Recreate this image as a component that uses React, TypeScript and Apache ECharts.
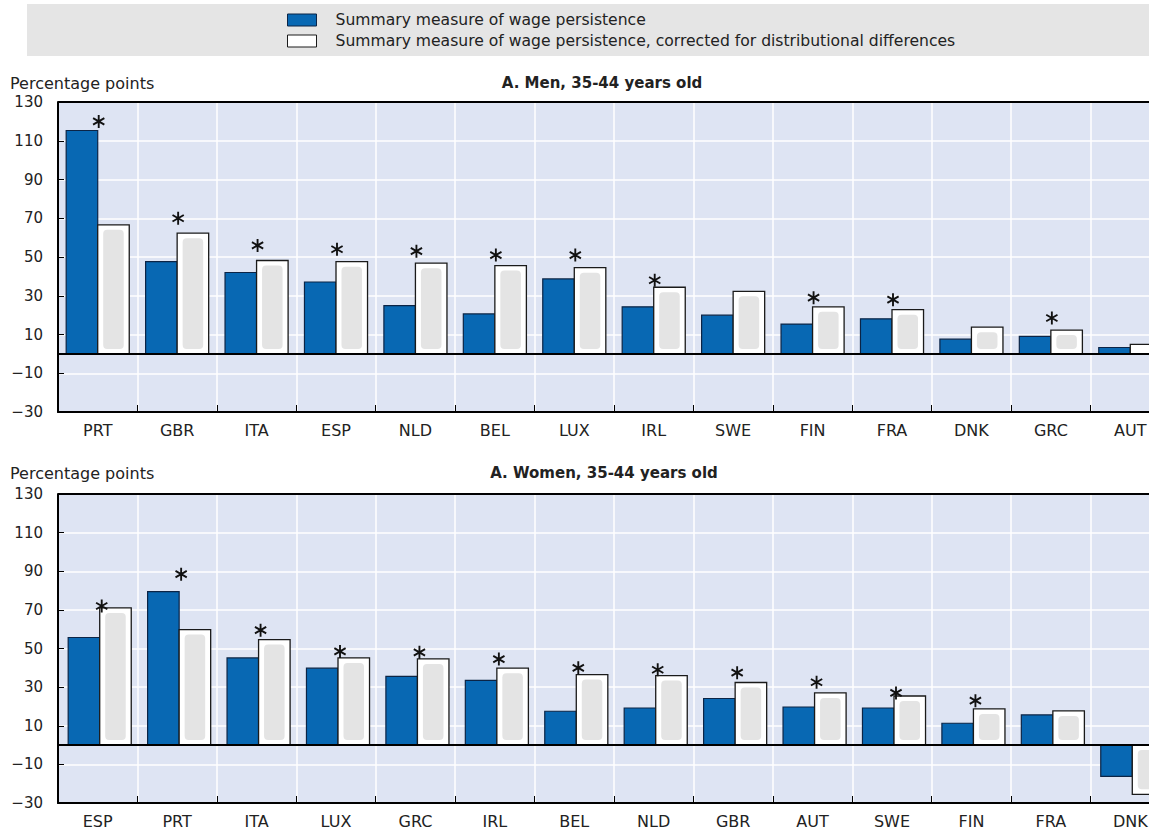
import React, { useEffect, useRef } from "react";
import * as echarts from "echarts";

// ---------- data ----------
const menCategories = ["PRT", "GBR", "ITA", "ESP", "NLD", "BEL", "LUX", "IRL", "SWE", "FIN", "FRA", "DNK", "GRC", "AUT"];
const menPersistence = [115.3, 47.6, 42.0, 37.1, 24.9, 20.6, 38.7, 24.3, 20.0, 15.4, 18.1, 7.6, 9.0, 3.3];
const menCorrected = [66.6, 62.3, 48.2, 47.6, 46.8, 45.6, 44.5, 34.4, 32.3, 24.3, 22.8, 13.8, 12.3, 4.9];
const menStars: (number | null)[] = [120, 70, 56, 54, 53, 51, 51, 38, null, 29, 28, null, 18.5, null];

const womenCategories = ["ESP", "PRT", "ITA", "LUX", "GRC", "IRL", "BEL", "NLD", "GBR", "AUT", "SWE", "FIN", "FRA", "DNK"];
const womenPersistence = [55.7, 79.5, 45.1, 39.8, 35.6, 33.5, 17.5, 19.2, 24.1, 19.7, 19.2, 11.3, 15.6, -16.2];
const womenCorrected = [71.0, 59.8, 54.6, 45.1, 44.6, 39.8, 36.5, 36.0, 32.4, 27.0, 25.4, 18.7, 17.7, -25.5];
const womenStars: (number | null)[] = [72, 88.5, 59.5, 48.5, 48, 44.5, 40, 39, 37.5, 32.5, 27, 23, null, null];

const yMin = -30;
const yMax = 130;
const yInterval = 20;

const seriesNames = [
  "Summary measure of wage persistence",
  "Summary measure of wage persistence, corrected for distributional differences",
];
const panelTitles = ["A. Men, 35-44 years old", "A. Women, 35-44 years old"];
const unitLabel = "Percentage points";

// ---------- styles ----------
const BLUE = "#0868b3";
const BLUE_EDGE = "#0b2446";
const PLOT_BG = "#dee4f3";
const FONT = "DejaVu Sans";
const ASTERISK =
  "path://M8.7 1L11.3 1L11.3 19L8.7 19Z M1.556 6.626L2.856 4.374L18.444 13.374L17.144 15.626Z M17.144 4.374L18.444 6.626L2.856 15.626L1.556 13.374Z";

function makeRender(side: "left" | "right", shift: number) {
  return (params: any, api: any) => {
    const i = api.value(0);
    const v = api.value(1);
    const p0 = api.coord([i, 0]);
    const p1 = api.coord([i, v]);
    const bw = api.size([1, 0])[0];
    const w = bw * 0.397;
    const x = side === "left" ? p0[0] - w + shift : p0[0] + shift;
    const y = Math.min(p0[1], p1[1]);
    const h = Math.abs(p1[1] - p0[1]);
    if (side === "left") {
      return {
        type: "rect",
        shape: { x, y, width: w, height: h },
        style: { fill: BLUE, stroke: BLUE_EDGE, lineWidth: 1.2 },
      };
    }
    const children: any[] = [
      {
        type: "rect",
        shape: { x, y, width: w, height: h },
        style: { fill: "#ffffff", stroke: "#1a1a1a", lineWidth: 1.3 },
      },
    ];
    if (h > 12) {
      children.push({
        type: "rect",
        shape: { x: x + 5.5, y: y + 5, width: w - 11, height: h - 10, r: 4 },
        style: { fill: "#e4e4e4" },
      });
    }
    return { type: "group", children };
  };
}

function buildPanel(idx: number, cats: string[], a: number[], b: number[], stars: (number | null)[], shift: number, starShift: number) {
  const xAxis = {
    type: "category",
    gridIndex: idx,
    data: cats,
    boundaryGap: true,
    axisLine: { onZero: false, lineStyle: { color: "#000", width: 2 } },
    axisTick: { show: true, inside: true, length: 7, lineStyle: { color: "#000", width: 1 } },
    axisLabel: { fontFamily: FONT, fontSize: 16, color: "#222", margin: 10, interval: 0 },
    splitLine: { show: true, showMinLine: false, showMaxLine: false, lineStyle: { color: "#fff", width: 1.5 } },
  };
  const yAxis = {
    type: "value",
    gridIndex: idx,
    min: yMin,
    max: yMax,
    interval: yInterval,
    axisLine: { show: true, lineStyle: { color: "#000", width: 2 } },
    axisTick: { show: true, inside: true, length: 6, lineStyle: { color: "#000", width: 1 } },
    axisLabel: {
      fontFamily: FONT,
      fontSize: 15,
      color: "#222",
      margin: 15,
      formatter: (v: number) => (v < 0 ? "\u2212" + Math.abs(v) : String(v)),
    },
    splitLine: { show: true, showMinLine: false, showMaxLine: false, lineStyle: { color: "#fff", width: 1.5 } },
  };
  const series = [
    {
      type: "custom",
      name: seriesNames[0],
      xAxisIndex: idx,
      yAxisIndex: idx,
      data: a.map((v, i) => [i, v]),
      encode: { x: 0, y: 1 },
      itemStyle: { color: BLUE, borderColor: BLUE_EDGE, borderWidth: 1 },
      renderItem: makeRender("left", shift),
      z: 2,
      markLine: {
        silent: true,
        symbol: ["none", "none"],
        label: { show: false },
        lineStyle: { color: "#000", width: 2, type: "solid" },
        data: [{ yAxis: 0 }, { yAxis: yMax }],
      },
    },
    {
      type: "custom",
      name: seriesNames[1],
      xAxisIndex: idx,
      yAxisIndex: idx,
      data: b.map((v, i) => [i, v]),
      encode: { x: 0, y: 1 },
      itemStyle: { color: "#fff", borderColor: "#1a1a1a", borderWidth: 1 },
      renderItem: makeRender("right", shift),
      z: 2,
    },
    {
      type: "scatter",
      name: "significance",
      xAxisIndex: idx,
      yAxisIndex: idx,
      data: stars.flatMap((v, i) => (v == null ? [] : [[i, v]])),
      symbol: ASTERISK,
      symbolSize: 13,
      symbolKeepAspect: true,
      symbolOffset: [starShift, 0],
      itemStyle: { color: "#111", opacity: 1 },
      z: 5,
      silent: true,
    },
  ];
  return { xAxis, yAxis, series };
}

export default function App() {
  const ref = useRef<HTMLDivElement>(null);
  useEffect(() => {
    if (!ref.current) return;
    const chart = echarts.init(ref.current, null, { renderer: "svg" });
    const men = buildPanel(0, menCategories, menPersistence, menCorrected, menStars, 0, 1);
    const women = buildPanel(1, womenCategories, womenPersistence, womenCorrected, womenStars, 2, 4);
    const option: any = {
      animation: false,
      backgroundColor: "#fff",
      textStyle: { fontFamily: FONT },
      grid: [
        { left: 58, top: 102, width: 1112, height: 310, show: true, backgroundColor: PLOT_BG, borderWidth: 0 },
        { left: 58, top: 494, width: 1112, height: 309, show: true, backgroundColor: PLOT_BG, borderWidth: 0 },
      ],
      legend: {
        orient: "vertical",
        left: 282,
        top: 7,
        itemWidth: 29,
        itemHeight: 12,
        itemGap: 5,
        icon: "rect",
        selectedMode: false,
        textStyle: { fontFamily: FONT, fontSize: 15.6, color: "#222", padding: [0, 0, 0, 14] },
        data: [
          { name: seriesNames[0], itemStyle: { color: BLUE, borderColor: BLUE_EDGE, borderWidth: 1 } },
          { name: seriesNames[1], itemStyle: { color: "#fff", borderColor: "#1a1a1a", borderWidth: 1 } },
        ],
      },
      xAxis: [men.xAxis, women.xAxis],
      yAxis: [men.yAxis, women.yAxis],
      series: [...men.series, ...women.series],
      graphic: [
        { type: "rect", z: -10, shape: { x: 27, y: 4, width: 1180, height: 52 }, style: { fill: "#e5e5e5" } },
        {
          type: "text", x: 10, y: 83,
          style: { text: unitLabel, fontFamily: FONT, fontSize: 16, fill: "#222", align: "left", verticalAlign: "middle", textAlign: "left", textVerticalAlign: "middle" },
        },
        {
          type: "text", x: 602, y: 83,
          style: { text: panelTitles[0], fontFamily: FONT, fontSize: 15, fontWeight: "bold", fill: "#222", align: "center", verticalAlign: "middle", textAlign: "center", textVerticalAlign: "middle" },
        },
        {
          type: "text", x: 10, y: 473,
          style: { text: unitLabel, fontFamily: FONT, fontSize: 16, fill: "#222", align: "left", verticalAlign: "middle", textAlign: "left", textVerticalAlign: "middle" },
        },
        {
          type: "text", x: 604, y: 473,
          style: { text: panelTitles[1], fontFamily: FONT, fontSize: 15, fontWeight: "bold", fill: "#222", align: "center", verticalAlign: "middle", textAlign: "center", textVerticalAlign: "middle" },
        },
      ],
    };
    chart.setOption(option);
    return () => chart.dispose();
  }, []);
  return (
    <div style={{ position: "fixed", left: 0, top: 0, width: 1149, height: 829, overflow: "hidden", background: "#fff" }}>
      <div ref={ref} style={{ width: 1200, height: 829 }} />
    </div>
  );
}
